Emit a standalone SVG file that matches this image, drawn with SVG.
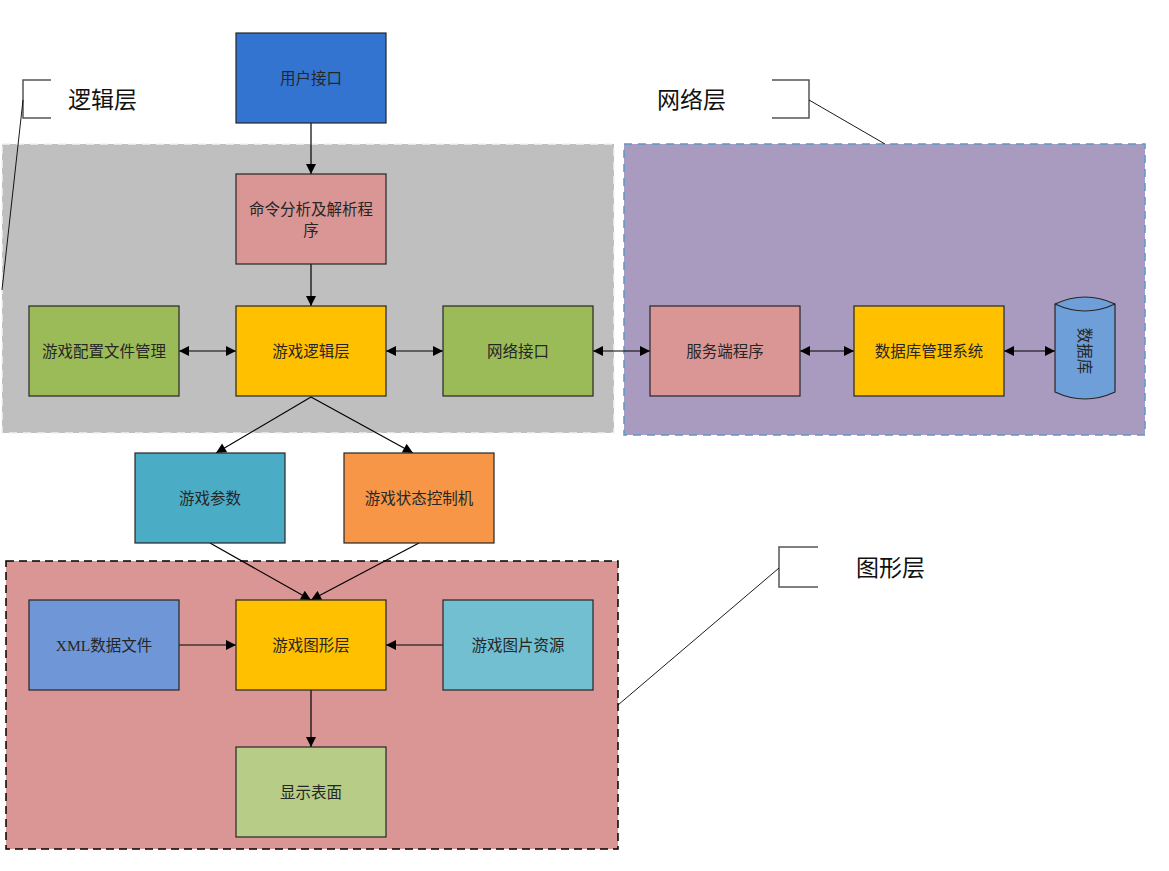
<svg xmlns="http://www.w3.org/2000/svg" width="1169" height="871" viewBox="0 0 1169 871">
<style>
.node{stroke:#262626;stroke-width:1.2}
.t{font-family:"Liberation Serif","Noto Sans CJK SC",serif;font-size:15.5px;fill:#262626;text-anchor:middle;dominant-baseline:central}
.title{font-family:"Noto Sans CJK SC",sans-serif;font-size:23px;fill:#111;dominant-baseline:central}
.c{fill:none;stroke:#000;stroke-width:1.2}
.br{fill:none;stroke:#555;stroke-width:1.5}
.lead{fill:none;stroke:#000;stroke-width:0.9}
</style>
<defs>
<marker id="a" viewBox="0 0 10 10" refX="10" refY="5" markerWidth="12" markerHeight="10" markerUnits="userSpaceOnUse" orient="auto-start-reverse">
<path d="M0,0 L10,5 L0,10 z" fill="#000"/>
</marker>
</defs>
<rect width="1169" height="871" fill="#fff"/>
<g id="panels">
<rect id="panel-logic" x="2" y="144" width="612" height="289" fill="#BFBFBF" stroke="#f2f2f2" stroke-width="1.5" stroke-dasharray="8,6"/>
<rect id="panel-net" x="624" y="144" width="521" height="291" fill="#A99BBF" stroke="#5B9BC6" stroke-width="1.5" stroke-dasharray="8,6"/>
<rect id="panel-gfx" x="6" y="561" width="612" height="288" fill="#D99694" stroke="#000" stroke-width="1.5" stroke-dasharray="8,5"/>
</g>
<g id="callouts">
<path class="br" d="M51,80 H23 V118 H51"/>
<path class="lead" d="M23,100 L2,290"/>
<text class="title" x="68" y="98">逻辑层</text>
<path class="br" d="M772,80 H809 V118 H772"/>
<path class="lead" d="M809,100 L885,144"/>
<text class="title" x="657" y="98">网络层</text>
<path class="br" d="M818,547 H779 V587 H818"/>
<path class="lead" d="M779,568 L618,705"/>
<text class="title" x="856" y="566">图形层</text>
</g>
<g id="connectors">
<path class="c" d="M311,123 V174" marker-end="url(#a)"/>
<path class="c" d="M311,264 V306" marker-end="url(#a)"/>
<path class="c" d="M179,351 H236" marker-start="url(#a)" marker-end="url(#a)"/>
<path class="c" d="M386,351 H443" marker-start="url(#a)" marker-end="url(#a)"/>
<path class="c" d="M593,351 H650" marker-start="url(#a)" marker-end="url(#a)"/>
<path class="c" d="M800,351 H854" marker-start="url(#a)" marker-end="url(#a)"/>
<path class="c" d="M1004,351 H1055" marker-start="url(#a)" marker-end="url(#a)"/>
<path class="c" d="M311,397 L216,453" marker-end="url(#a)"/>
<path class="c" d="M311,397 L413,453" marker-end="url(#a)"/>
<path class="c" d="M210,543 L311,600" marker-end="url(#a)"/>
<path class="c" d="M419,543 L311,600" marker-end="url(#a)"/>
<path class="c" d="M179,645 H236" marker-end="url(#a)"/>
<path class="c" d="M443,645 H386" marker-end="url(#a)"/>
<path class="c" d="M311,690 V747" marker-end="url(#a)"/>
</g>
<g id="n-user"><rect class="node" x="236" y="33" width="150" height="90" fill="#3374D0"/><text class="t" x="311" y="78">用户接口</text></g>
<g id="n-cmd"><rect class="node" x="236" y="174" width="150" height="90" fill="#D99694"/><text class="t" x="311" y="209">命令分析及解析程</text><text class="t" x="311" y="230">序</text></g>
<g id="n-logic"><rect class="node" x="236" y="306" width="150" height="90" fill="#FFC000"/><text class="t" x="311" y="351">游戏逻辑层</text></g>
<g id="n-config"><rect class="node" x="29" y="306" width="150" height="90" fill="#9BBB59"/><text class="t" x="104" y="351">游戏配置文件管理</text></g>
<g id="n-netif"><rect class="node" x="443" y="306" width="150" height="90" fill="#9BBB59"/><text class="t" x="518" y="351">网络接口</text></g>
<g id="n-server"><rect class="node" x="650" y="306" width="150" height="90" fill="#D99694"/><text class="t" x="725" y="351">服务端程序</text></g>
<g id="n-dbms"><rect class="node" x="854" y="306" width="150" height="90" fill="#FFC000"/><text class="t" x="929" y="351">数据库管理系统</text></g>
<g id="n-db">
<path class="node" d="M1055,304 Q1085,290 1115,304 V392 Q1085,406 1055,392 Z" fill="#6F9FD8"/>
<path class="node" d="M1055,304 Q1085,318 1115,304" fill="none"/>
<text class="t" x="1084" y="351" transform="rotate(90 1084 351)">数据库</text>
</g>
<g id="n-param"><rect class="node" x="135" y="453" width="150" height="90" fill="#4BACC6"/><text class="t" x="210" y="498">游戏参数</text></g>
<g id="n-state"><rect class="node" x="344" y="453" width="150" height="90" fill="#F79646"/><text class="t" x="419" y="498">游戏状态控制机</text></g>
<g id="n-xml"><rect class="node" x="29" y="600" width="150" height="90" fill="#6F97D8"/><text class="t" x="104" y="645">XML数据文件</text></g>
<g id="n-gfx"><rect class="node" x="236" y="600" width="150" height="90" fill="#FFC000"/><text class="t" x="311" y="645">游戏图形层</text></g>
<g id="n-img"><rect class="node" x="443" y="600" width="150" height="90" fill="#71BFD0"/><text class="t" x="518" y="645">游戏图片资源</text></g>
<g id="n-display"><rect class="node" x="236" y="747" width="150" height="90" fill="#B6CC87"/><text class="t" x="311" y="792">显示表面</text></g>
</svg>
